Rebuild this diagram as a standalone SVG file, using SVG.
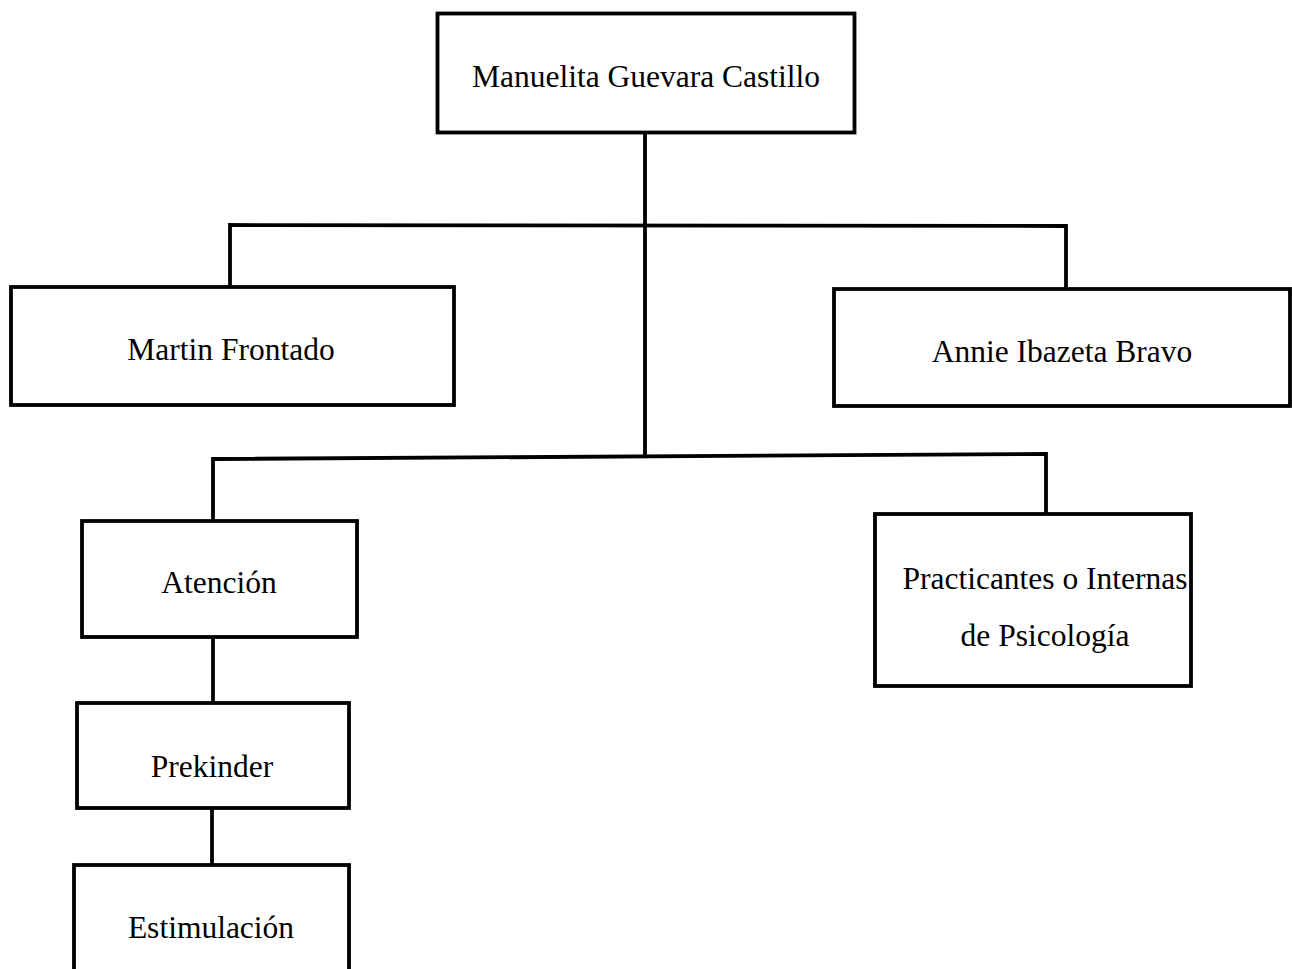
<svg xmlns="http://www.w3.org/2000/svg" width="1292" height="969" viewBox="0 0 1292 969">
<style>
.box{fill:#fff;stroke:#000;stroke-width:3.8}
.lbl{font-family:"Liberation Serif","Times New Roman",serif;font-size:31.5px;fill:#000;text-anchor:middle}
.con{fill:none;stroke:#000;stroke-width:3.8;stroke-linejoin:miter}
</style>
<rect width="1292" height="969" fill="#fff"/>
<g id="connectors">
<line class="con" x1="645" y1="133" x2="645" y2="457"/>
<polyline class="con" points="230,287 230,225 1066,226 1066,289"/>
<polyline class="con" points="213,521 213,459 1046,454 1046,514"/>
<line class="con" x1="213" y1="637" x2="213" y2="703"/>
<line class="con" x1="212" y1="808" x2="212" y2="865"/>
</g>
<g id="n-manuelita">
<rect class="box" x="437.5" y="13.5" width="417" height="119"/>
<text class="lbl" x="646" y="87">Manuelita Guevara Castillo</text>
</g>
<g id="n-martin">
<rect class="box" x="11" y="287" width="443" height="118"/>
<text class="lbl" x="231" y="360">Martin Frontado</text>
</g>
<g id="n-annie">
<rect class="box" x="834" y="289" width="456" height="117"/>
<text class="lbl" x="1062" y="362">Annie Ibazeta Bravo</text>
</g>
<g id="n-atencion">
<rect class="box" x="82" y="521" width="275" height="116"/>
<text class="lbl" x="219" y="593">Atención</text>
</g>
<g id="n-practicantes">
<rect class="box" x="875" y="514" width="316" height="172"/>
<text class="lbl" x="1045" y="589" font-size="31">Practicantes o Internas</text>
<text class="lbl" x="1045" y="646" font-size="31">de Psicología</text>
</g>
<g id="n-prekinder">
<rect class="box" x="77" y="703" width="272" height="105"/>
<text class="lbl" x="212" y="777">Prekinder</text>
</g>
<g id="n-estimulacion">
<rect class="box" x="74" y="865" width="275" height="130"/>
<text class="lbl" x="211" y="938">Estimulación</text>
</g>
</svg>
